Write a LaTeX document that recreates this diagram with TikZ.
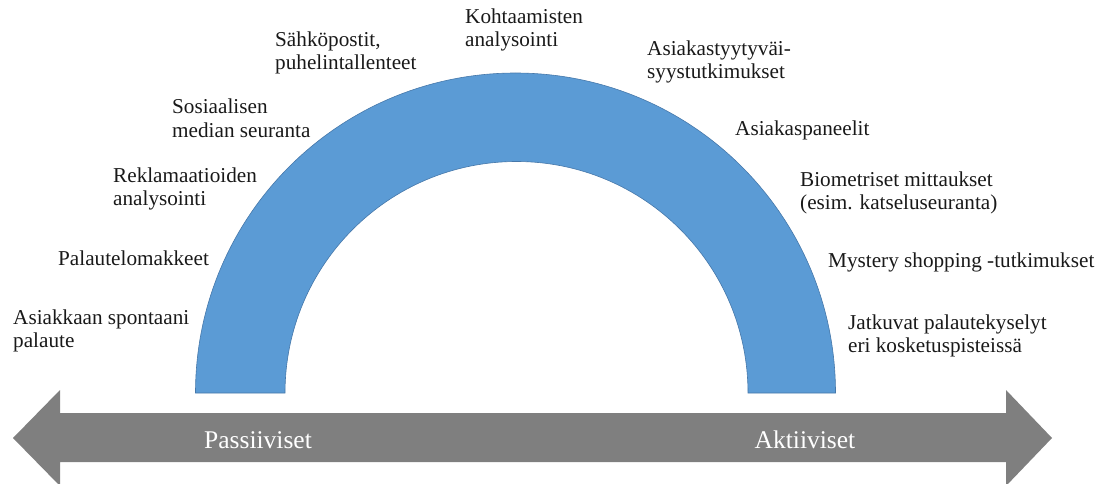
\documentclass[tikz,border=0pt]{standalone}
\usepackage{fontspec}
\setmainfont{Liberation Serif}
\newfontfamily\menetelmafont{Liberation Serif}
\usetikzlibrary{positioning}
\definecolor{kaarisini}{RGB}{91,155,213}
\definecolor{kaarireuna}{RGB}{70,120,170}
\definecolor{nuoliharmaa}{RGB}{127,127,127}
\tikzset{
  menetelma/.style={anchor=west, align=left, inner sep=0pt,
    font=\menetelmafont\fontsize{21.2}{23.5}\selectfont, text=black!90},
  nuoliteksti/.style={text=white, inner sep=0pt,
    font=\menetelmafont\fontsize{25.5}{28}\selectfont},
  kaari/.style={fill=kaarisini, draw=kaarireuna, line width=0.6pt},
  nuoli/.style={fill=nuoliharmaa, draw=none}
}
\begin{document}
\begin{tikzpicture}[x=1pt, y=1pt]
  \useasboundingbox (0,0) rectangle (1105,483);
  % kaari
  \draw[kaari] (195.5,90) arc[start angle=180, end angle=0, radius=320]
    -- (748,90) arc[start angle=0, end angle=180, radius=231.5] -- cycle;
  % kaksisuuntainen nuoli
  \fill[nuoli] (13,45) -- (60,93) -- (60,70) -- (1006,70) -- (1006,93)
    -- (1052,45) -- (1006,-3) -- (1006,21) -- (60,21) -- (60,-3) -- cycle;
  \node[nuoliteksti] (passiiv) at (258,43) {Passiiviset};
  \node[nuoliteksti] (aktiiv) at (805,43) {Aktiiviset};
  % menetelmat
  \node[menetelma] (kohta) at (465,453) {Kohtaamisten\\analysointi};
  \node[menetelma] (sahko) at (275,430) {Sähköpostit,\\puhelintallenteet};
  \node[menetelma] (tyyty) at (647,421) {Asiakastyytyväi-\\syystutkimukset};
  \node[menetelma] (sosme) at (172,365) {Sosiaalisen\\median seuranta};
  \node[menetelma] (paneel) at (735,353) {Asiakaspaneelit};
  \node[menetelma] (reklam) at (113,294) {Reklamaatioiden\\analysointi};
  \node[menetelma] (biomet) at (800,290) {Biometriset mittaukset\\(esim. katseluseuranta)};
  \node[menetelma] (lomak) at (58,225) {Palautelomakkeet};
  \node[menetelma] (myster) at (828,221) {Mystery shopping -tutkimukset};
  \node[menetelma] (spont) at (13,152) {Asiakkaan spontaani\\palaute};
  \node[menetelma] (jatkuv) at (848,147) {Jatkuvat palautekyselyt\\eri kosketuspisteissä};
\end{tikzpicture}
\end{document}
